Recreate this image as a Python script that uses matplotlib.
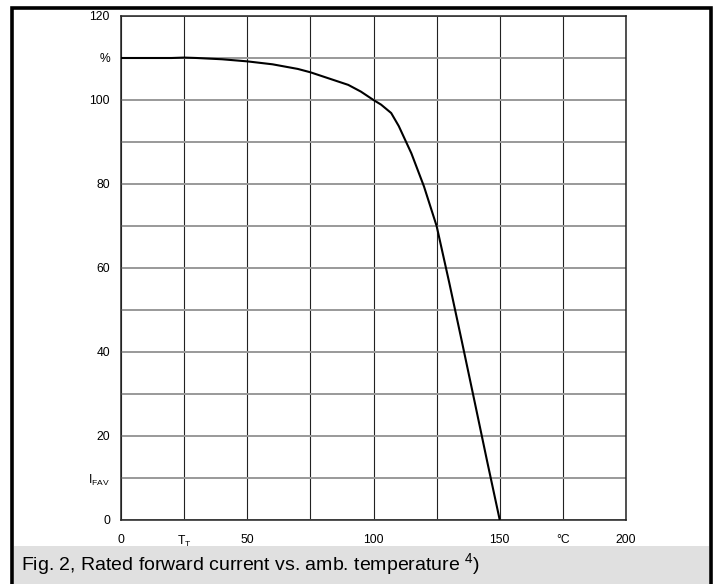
#!/usr/bin/env python3
import matplotlib
matplotlib.use('Agg')
import matplotlib.pyplot as plt
from matplotlib.patches import Rectangle

# 数据：环境温度 (°C) 与额定正向电流 (%)
temp = [0, 10, 20, 25, 30, 40, 50, 60, 70, 75, 80, 90, 95, 100, 103, 107,
        110, 115, 120, 125, 130, 135, 140, 145, 150]
i_fav = [110, 110, 110, 110.1, 110, 109.7, 109.2, 108.5, 107.4, 106.6, 105.6,
         103.6, 102, 100, 98.9, 96.9, 93.8, 87.3, 79.4, 70, 56.5, 42.5, 28.3, 14, 0]

x_ticks = [0, 25, 50, 75, 100, 125, 150, 175, 200]
x_labels = ['0', r'$\mathregular{T_T}$', '50', '', '100', '', '150', '°C', '200']
y_ticks = [0, 10, 20, 30, 40, 50, 60, 70, 80, 90, 100, 110, 120]
y_labels = ['0', r'$\mathregular{I_{FAV}}$', '20', '', '40', '', '60', '',
            '80', '', '100', '%', '120']
caption = r'Fig. 2, Rated forward current vs. amb. temperature $\mathregular{^4}$)'

plt.rcParams['font.family'] = ['Liberation Sans', 'DejaVu Sans']

W, H = 718, 584
fig = plt.figure(figsize=(W / 100, H / 100), dpi=100)

# 外框和标题底色
fig.patches.append(Rectangle((14 / W, 0), 695 / W, 38 / H, transform=fig.transFigure,
                             facecolor='#e0e0e0', edgecolor='none', zorder=0))
fig.patches.append(Rectangle((12 / W, -0.05), 698.5 / W, (H - 7.5) / H + 0.05,
                             transform=fig.transFigure, facecolor='none',
                             edgecolor='black', linewidth=2.6, zorder=1))

ax = fig.add_axes([121 / W, (H - 520) / H, 505 / W, 504 / H])
ax.plot(temp, i_fav, color='black', linewidth=1.5, zorder=3)
ax.set_xlim(0, 200)
ax.set_ylim(0, 120)
ax.set_xticks(x_ticks)
ax.set_xticklabels(x_labels)
ax.set_yticks(y_ticks)
ax.set_yticklabels(y_labels)
ax.tick_params(axis='both', length=0, labelsize=8.7)
ax.tick_params(axis='x', pad=10)
ax.tick_params(axis='y', pad=8)
ax.grid(axis='x', color='#222222', linewidth=0.8)
ax.grid(axis='y', color='#999999', linewidth=1.4)
for s in ax.spines.values():
    s.set_color('#222222')
    s.set_linewidth(1.1)

fig.text(21 / W, (H - 570.5) / H, caption, fontsize=14, va='baseline', ha='left')

fig.savefig('out.png', dpi=100)
